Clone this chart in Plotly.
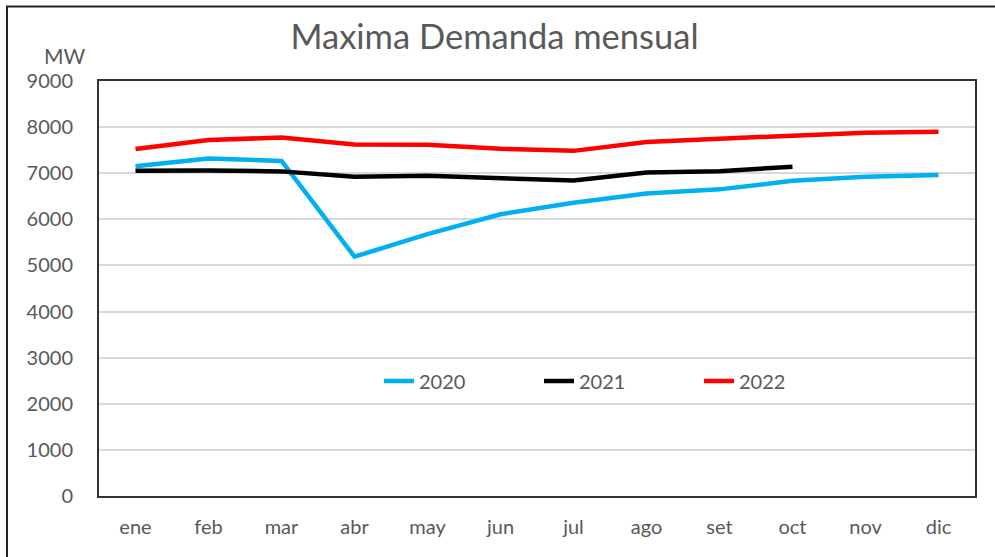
import plotly.graph_objects as go

months = ["ene", "feb", "mar", "abr", "may", "jun", "jul", "ago", "set", "oct", "nov", "dic"]
y2020 = [7150, 7320, 7265, 5190, 5680, 6110, 6360, 6560, 6650, 6835, 6925, 6960]
y2021 = [7055, 7060, 7040, 6925, 6945, 6900, 6840, 7015, 7045, 7140]
y2022 = [7525, 7720, 7775, 7625, 7620, 7530, 7485, 7675, 7750, 7805, 7880, 7900]
yticks = [0, 1000, 2000, 3000, 4000, 5000, 6000, 7000, 8000, 9000]

FONT = "Lato"
GRAY = "#595959"

fig = go.Figure()
series = [("2020", y2020, "#00B0F0"), ("2021", y2021, "#000000"), ("2022", y2022, "#FF0000")]
for name, vals, col in series:
    fig.add_trace(go.Scatter(x=months[:len(vals)], y=vals, name=name, mode="lines",
                             line=dict(color=col, width=4.5)))

L, R, T, B = 99, 975, 81, 496
W, H = 995, 557
pw, ph = R - L, B - T

def px(x):
    return (x - L) / pw

def py(y):
    return (B - y) / ph

fig.update_layout(
    width=W, height=H,
    margin=dict(l=L, r=W - R, t=T, b=H - B, autoexpand=False),
    paper_bgcolor="white", plot_bgcolor="white",
    font=dict(family=FONT, color=GRAY, size=20),
    title=dict(text="Maxima Demanda mensual", x=0.497, xanchor="center", y=1 - 37 / H, yanchor="middle",
               font=dict(family=FONT, size=34.5, color=GRAY)),
    xaxis=dict(type="category", categoryorder="array", categoryarray=months, range=[-0.5, 11.5],
               showgrid=False, showline=True, mirror=True, linecolor="#333333", linewidth=2,
               ticks="", ticklabelstandoff=12, tickfont=dict(size=20, color=GRAY), automargin=False),
    yaxis=dict(range=[0, 9000], tickvals=yticks, showgrid=True, gridcolor="#D9D9D9", gridwidth=1.5,
               showline=True, mirror=True, linecolor="#333333", linewidth=2, zeroline=False,
               ticks="", ticklabelstandoff=20, tickfont=dict(size=20, color=GRAY), automargin=False),
    legend=dict(orientation="h", x=px(379), y=py(381), xanchor="left", yanchor="middle",
                entrywidth=115, entrywidthmode="pixels", bgcolor="rgba(0,0,0,0)",
                font=dict(size=20, color=GRAY)),
    showlegend=True,
)

fig.add_annotation(text="MW", xref="paper", yref="paper", x=px(64), y=py(55), xanchor="center", yanchor="middle",
                   showarrow=False, font=dict(family=FONT, size=21, color=GRAY))

fig.add_shape(type="rect", xref="paper", yref="paper", x0=px(7), y0=py(570), x1=px(1010), y1=py(6.5),
              line=dict(color="#222222", width=2), fillcolor="rgba(0,0,0,0)", layer="above")

fig.write_html("out.html", config={"displayModeBar": False},
               post_script="document.body.style.margin='0';document.body.style.overflow='hidden';")
